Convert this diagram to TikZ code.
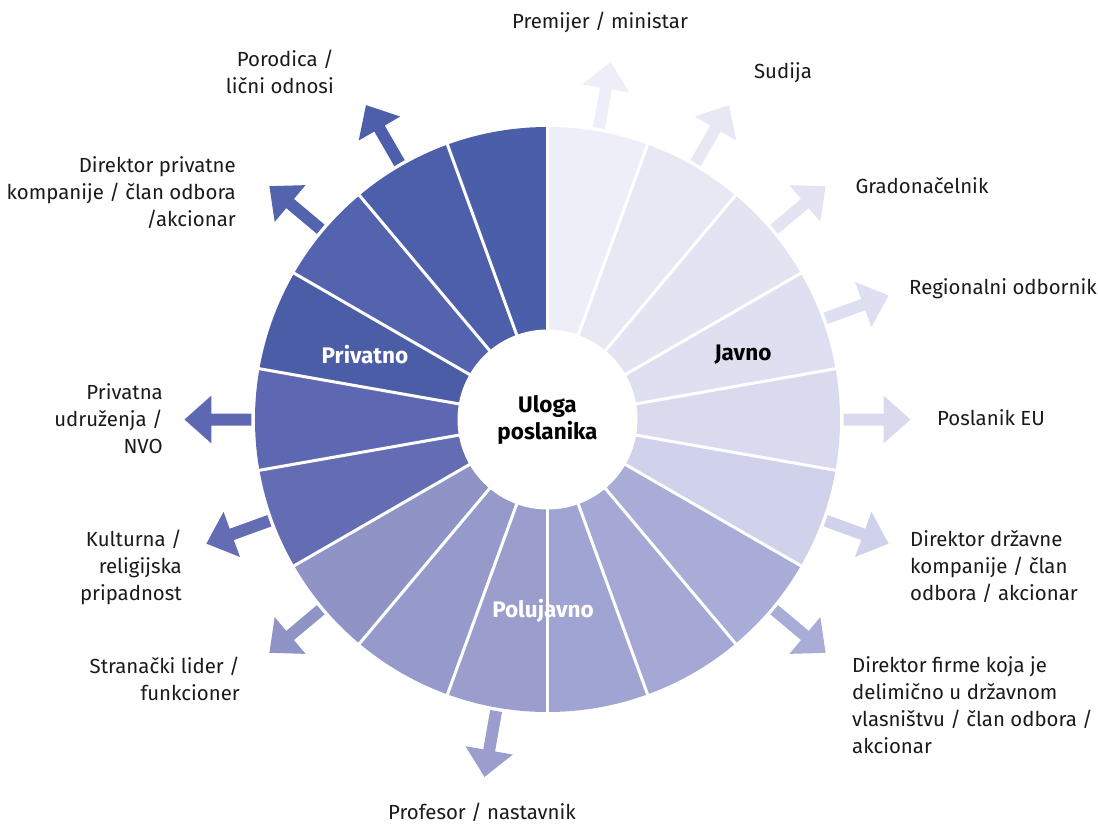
\documentclass[tikz,border=0pt]{standalone}
\usepackage{fontspec}
\setmainfont{Fira Sans}
\definecolor{s0}{HTML}{EEEEF8}
\definecolor{s1}{HTML}{E8E8F5}
\definecolor{s2}{HTML}{E3E3F2}
\definecolor{s3}{HTML}{DEDFF0}
\definecolor{s4}{HTML}{D9DAEE}
\definecolor{s5}{HTML}{D0D1EA}
\definecolor{s6}{HTML}{A9ACD7}
\definecolor{s7}{HTML}{A5A8D4}
\definecolor{s8}{HTML}{A0A4D2}
\definecolor{s9}{HTML}{9B9ECD}
\definecolor{s10}{HTML}{969ACB}
\definecolor{s11}{HTML}{8F93C6}
\definecolor{s12}{HTML}{646CB3}
\definecolor{s13}{HTML}{5E68B2}
\definecolor{s14}{HTML}{4C5DA8}
\definecolor{s15}{HTML}{5463AD}
\definecolor{s16}{HTML}{4D5FAA}
\definecolor{s17}{HTML}{4B5EA9}
\definecolor{txt}{HTML}{1A1A1A}
\tikzset{
  lbl/.style={font=\fontsize{20.4}{27}\selectfont, text=txt, inner sep=0pt},
  seclbl/.style={font=\fontsize{22.5}{27}\selectfont\bfseries, inner sep=0pt},
  sep/.style={draw=white, line width=3pt},
}
\begin{document}
\begin{tikzpicture}[x=1pt,y=1pt]
\useasboundingbox (-547.5,-403.5) rectangle (550.5,419.5);
% sectors
\foreach \i in {0,...,17}{
  \pgfmathsetmacro{\aa}{90-20*\i}
  \pgfmathsetmacro{\bb}{70-20*\i}
  \fill[s\i] (0,0) -- (\aa:292.5) arc[start angle=\aa, end angle=\bb, radius=292.5] -- cycle;
}
\foreach \i in {0,...,17}{
  \draw[sep] (0,0) -- ({90-20*\i}:295);
}
\fill[white] (0,0) circle[radius=90];
% arrows
\foreach \a/\c in {80/s0,60/s1,40/s2,20/s3,0/s4,-20/s5,-40/s6,-100/s9,-140/s11,-160/s12,180/s13,140/s15,120/s16}{
  \begin{scope}[rotate=\a]
    \fill[\c] (296,-6) -- (336,-6) -- (336,-24) -- (363,0) -- (336,24) -- (336,6) -- (296,6) -- cycle;
  \end{scope}
}
% centre and section labels
\node[seclbl, align=center] (c) at (0,0) {Uloga\\poslanika};
\node[seclbl] (jav) at (195.5,64.5) {Javno};
\node[seclbl, text=white] (priv) at (-182.5,64.5) {Privatno};
\node[seclbl, text=white] (polu) at (-4.5,-191.5) {Polujavno};
% outer labels
\node[lbl] (l0) at (52.5,397.5) {Premijer / ministar};
\node[lbl] (l1) at (235.5,346.5) {Sudija};
\node[lbl] (l2) at (374.5,233.5) {Gradonačelnik};
\node[lbl] (l3) at (455.5,130.5) {Regionalni odbornik};
\node[lbl] (l4) at (443.5,1.5) {Poslanik EU};
\node[lbl, anchor=west, align=left] (l5) at (362.5,-147.5) {Direktor državne\\kompanije / član\\odbora / akcionar};
\node[lbl, anchor=west, align=left] (l6) at (304.5,-286) {Direktor firme koja je\\delimično u državnom\\vlasništvu / član odbora /\\akcionar};
\node[lbl] (l9) at (-65.5,-392.5) {Profesor / nastavnik};
\node[lbl, anchor=east, align=right] (l11) at (-307.5,-259) {Stranački lider /\\funkcioner};
\node[lbl, anchor=east, align=right] (l12) at (-365.5,-147.5) {Kulturna /\\religijska\\pripadnost};
\node[lbl, anchor=east, align=right] (l13) at (-384.5,0.5) {Privatna\\udruženja /\\NVO};
\node[lbl, anchor=east, align=right] (l15) at (-311.5,226.5) {Direktor privatne\\kompanije / član odbora\\/akcionar};
\node[lbl, anchor=east, align=right] (l16) at (-213.5,348) {Porodica /\\lični odnosi};
\end{tikzpicture}
\end{document}
